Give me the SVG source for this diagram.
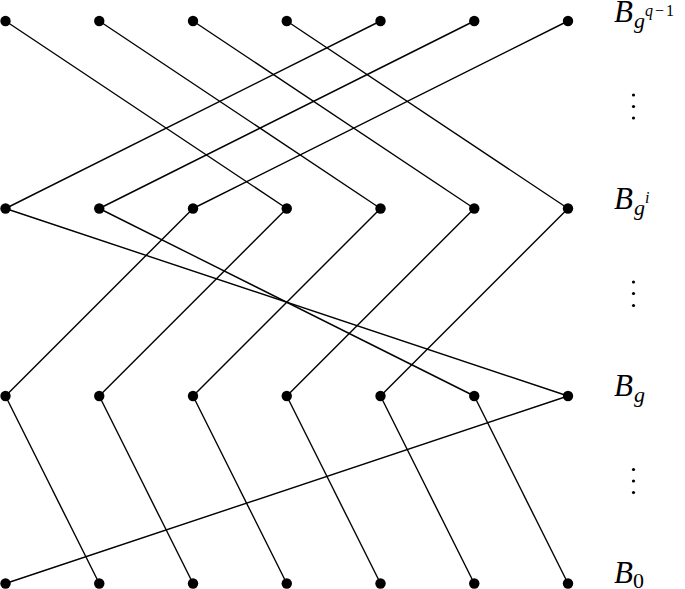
<svg xmlns="http://www.w3.org/2000/svg" width="685" height="589" viewBox="0 0 685 589">
<style>
.e{stroke:#000;stroke-width:1.4;fill:none}
.n{fill:#000}
.lbl{font-family:"Liberation Serif",serif;font-style:italic;fill:#000}
.rm{font-family:"Liberation Serif",serif;font-style:normal;fill:#000}
</style>
<rect width="685" height="589" fill="#fff"/>
<g id="connectors" class="e">
<line x1="5.5" y1="21" x2="286.75" y2="208.5"/>
<line x1="99.25" y1="21" x2="380.5" y2="208.5"/>
<line x1="193" y1="21" x2="474.25" y2="208.5"/>
<line x1="286.75" y1="21" x2="568" y2="208.5"/>
<line x1="380.5" y1="21" x2="5.5" y2="208.5"/>
<line x1="474.25" y1="21" x2="99.25" y2="208.5"/>
<line x1="568" y1="21" x2="193" y2="208.5"/>
<line x1="5.5" y1="208.5" x2="568" y2="396"/>
<line x1="99.25" y1="208.5" x2="474.25" y2="396"/>
<line x1="193" y1="208.5" x2="5.5" y2="396"/>
<line x1="286.75" y1="208.5" x2="99.25" y2="396"/>
<line x1="380.5" y1="208.5" x2="193" y2="396"/>
<line x1="474.25" y1="208.5" x2="286.75" y2="396"/>
<line x1="568" y1="208.5" x2="380.5" y2="396"/>
<line x1="5.5" y1="396" x2="99.25" y2="583.5"/>
<line x1="99.25" y1="396" x2="193" y2="583.5"/>
<line x1="193" y1="396" x2="286.75" y2="583.5"/>
<line x1="286.75" y1="396" x2="380.5" y2="583.5"/>
<line x1="380.5" y1="396" x2="474.25" y2="583.5"/>
<line x1="474.25" y1="396" x2="568" y2="583.5"/>
<line x1="568" y1="396" x2="5.5" y2="583.5"/>
</g>
<g id="row3" class="n">
<circle id="n3_0" cx="5.5" cy="21" r="5.2"/>
<circle id="n3_1" cx="99.25" cy="21" r="5.2"/>
<circle id="n3_2" cx="193" cy="21" r="5.2"/>
<circle id="n3_3" cx="286.75" cy="21" r="5.2"/>
<circle id="n3_4" cx="380.5" cy="21" r="5.2"/>
<circle id="n3_5" cx="474.25" cy="21" r="5.2"/>
<circle id="n3_6" cx="568" cy="21" r="5.2"/>
</g>
<g id="row2" class="n">
<circle id="n2_0" cx="5.5" cy="208.5" r="5.2"/>
<circle id="n2_1" cx="99.25" cy="208.5" r="5.2"/>
<circle id="n2_2" cx="193" cy="208.5" r="5.2"/>
<circle id="n2_3" cx="286.75" cy="208.5" r="5.2"/>
<circle id="n2_4" cx="380.5" cy="208.5" r="5.2"/>
<circle id="n2_5" cx="474.25" cy="208.5" r="5.2"/>
<circle id="n2_6" cx="568" cy="208.5" r="5.2"/>
</g>
<g id="row1" class="n">
<circle id="n1_0" cx="5.5" cy="396" r="5.2"/>
<circle id="n1_1" cx="99.25" cy="396" r="5.2"/>
<circle id="n1_2" cx="193" cy="396" r="5.2"/>
<circle id="n1_3" cx="286.75" cy="396" r="5.2"/>
<circle id="n1_4" cx="380.5" cy="396" r="5.2"/>
<circle id="n1_5" cx="474.25" cy="396" r="5.2"/>
<circle id="n1_6" cx="568" cy="396" r="5.2"/>
</g>
<g id="row0" class="n">
<circle id="n0_0" cx="5.5" cy="583.5" r="5.2"/>
<circle id="n0_1" cx="99.25" cy="583.5" r="5.2"/>
<circle id="n0_2" cx="193" cy="583.5" r="5.2"/>
<circle id="n0_3" cx="286.75" cy="583.5" r="5.2"/>
<circle id="n0_4" cx="380.5" cy="583.5" r="5.2"/>
<circle id="n0_5" cx="474.25" cy="583.5" r="5.2"/>
<circle id="n0_6" cx="568" cy="583.5" r="5.2"/>
</g>
<g id="labels">
<text x="614" y="22" class="lbl" font-size="31">B<tspan font-size="22" dy="6" dx="1">g</tspan><tspan font-size="16" dy="-12">q</tspan><tspan font-size="16" class="rm" dx="2">−</tspan><tspan font-size="16" class="rm" dx="2">1</tspan></text>
<text x="614" y="209" class="lbl" font-size="31">B<tspan font-size="22" dy="6" dx="1">g</tspan><tspan font-size="16" dy="-12">i</tspan></text>
<text x="614" y="396" class="lbl" font-size="31">B<tspan font-size="22" dy="6" dx="1">g</tspan></text>
<text x="614" y="583" class="lbl" font-size="31">B<tspan font-size="22" dy="5" class="rm">0</tspan></text>
</g>
<g id="vdots" class="n">
<circle cx="633.5" cy="95" r="1.6"/><circle cx="633.5" cy="106.5" r="1.6"/><circle cx="633.5" cy="118" r="1.6"/>
<circle cx="633.5" cy="282" r="1.6"/><circle cx="633.5" cy="293.5" r="1.6"/><circle cx="633.5" cy="305.5" r="1.6"/>
<circle cx="633.5" cy="469.5" r="1.6"/><circle cx="633.5" cy="481" r="1.6"/><circle cx="633.5" cy="492.5" r="1.6"/>
</g>
</svg>
